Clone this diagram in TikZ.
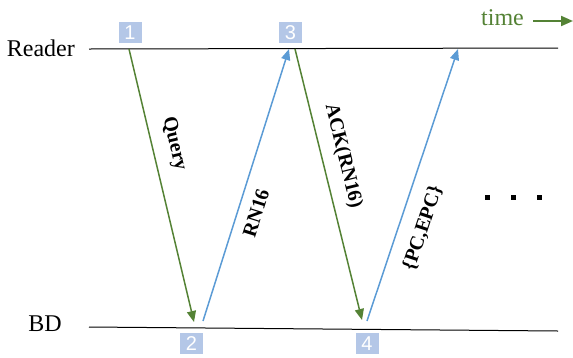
\documentclass[tikz,border=0pt]{standalone}
\usepackage{fontspec}
\setmainfont{Liberation Serif}
\newfontfamily\numfont{Liberation Sans}
\usetikzlibrary{arrows.meta}
\definecolor{mygreen}{HTML}{548235}
\definecolor{myblue}{HTML}{5B9BD5}
\definecolor{boxblue}{HTML}{B4C7E7}
\begin{document}
\begin{tikzpicture}[x=1pt,y=-1pt,
  numbox/.style={fill=boxblue,text=white,minimum width=23pt,minimum height=21pt,inner sep=0pt,font=\numfont\fontsize{20}{20}\selectfont},
  lane/.style={draw=black,line width=1pt},
  msggreen/.style={draw=mygreen,line width=1.5pt,-{Triangle[length=11pt,width=9pt]}},
  msgblue/.style={draw=myblue,line width=1.5pt,-{Triangle[length=11pt,width=9pt]}},
  lbl/.style={font=\fontsize{20}{20}\selectfont\bfseries,inner sep=0pt},
  side/.style={font=\fontsize{24}{24}\selectfont,inner sep=0pt}]
\useasboundingbox (0,0) rectangle (573,357);
% lanes
\coordinate (rL) at (89,49);
\coordinate (rR) at (558,48);
\coordinate (bL) at (89,327);
\coordinate (bR) at (558,331);
\draw[lane] (rL) -- (rR);
\draw[lane] (bL) -- (bR);
\node[side,anchor=base east] (reader) at (75,56) {Reader};
\node[side,anchor=base east] (bd) at (62,331) {BD};
% boxes
\node[numbox] (n1) at (130,32.5) {1};
\node[numbox] (n3) at (290.5,32.5) {3};
\node[numbox] (n2) at (191.5,343.5) {2};
\node[numbox] (n4) at (367,343.5) {4};
% message points
\coordinate (a1) at (129,49);
\coordinate (a2) at (194,322);
\coordinate (b1) at (203,321);
\coordinate (b2) at (289,49);
\coordinate (c1) at (295,49);
\coordinate (c2) at (362,320);
\coordinate (d1) at (367,321);
\coordinate (d2) at (458,49);
\draw[msggreen] (a1) -- (a2);
\draw[msgblue] (b1) -- (b2);
\draw[msggreen] (c1) -- (c2);
\draw[msgblue] (d1) -- (d2);
% labels
\node[lbl,rotate=-76.6] (q) at (174,144) {Query};
\node[lbl,rotate=72.5] (r) at (256,213) {RN16};
\node[lbl,rotate=-76.1] (ack) at (343,156) {ACK(RN16)};
\node[lbl,rotate=71.5] (pc) at (423,228) {\{PC,EPC\}};
% dots
\node[inner sep=0pt] (dots) at (513,197) {\rule{5pt}{5pt}\hspace{21pt}\rule{5pt}{5pt}\hspace{21pt}\rule{5pt}{5pt}};
% time
\node[side,text=mygreen,anchor=base west] (time) at (481,25) {time};
\coordinate (t1) at (533,21);
\coordinate (t2) at (573,21);
\draw[draw=mygreen,line width=2pt,-{Triangle[length=12pt,width=10pt]}] (t1) -- (t2);
\end{tikzpicture}
\end{document}
